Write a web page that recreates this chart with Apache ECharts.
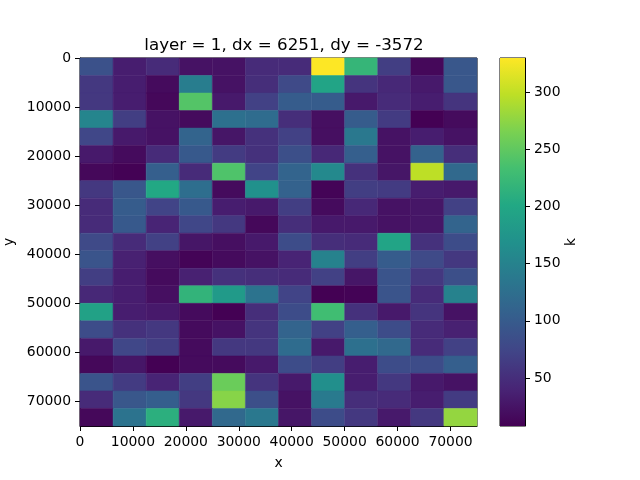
<!DOCTYPE html>
<html>
<head>
<meta charset="utf-8">
<script src="https://cdn.jsdelivr.net/npm/echarts@6/dist/echarts.min.js"></script>
<style>html,body{margin:0;padding:0;background:#fff}#c{width:640px;height:480px}</style>
</head>
<body>
<div id="c"></div>
<script>
const titleText = 'layer = 1, dx = 6251, dy = -3572';
const dx = 6251;
const dy = 3572;
const nCols = 12;
const nRows = 21;
const xTicks = [0, 10000, 20000, 30000, 40000, 50000, 60000, 70000];
const yTicks = [0, 10000, 20000, 30000, 40000, 50000, 60000, 70000];
const cbTicks = [50, 100, 150, 200, 250, 300];
const vMin = 8;
const vMax = 330;
// k values, one row per dy step (top to bottom), one column per dx step
const row0  = [88, 34, 47, 24, 24, 47, 47, 330, 220, 66, 14, 95];
const row1  = [60, 34, 17, 143, 24, 50, 79, 195, 56, 44, 30, 95];
const row2  = [60, 34, 14, 243, 30, 69, 101, 101, 30, 47, 34, 56];
const row3  = [153, 66, 24, 17, 127, 121, 50, 21, 101, 63, 8, 17];
const row4  = [76, 30, 24, 111, 27, 53, 69, 21, 137, 24, 34, 24];
const row5  = [30, 17, 47, 98, 63, 53, 85, 44, 105, 24, 108, 50];
const row6  = [14, 9, 105, 47, 240, 72, 111, 159, 53, 27, 298, 117];
const row7  = [60, 95, 201, 124, 17, 169, 108, 11, 66, 63, 34, 30];
const row8  = [47, 101, 72, 98, 34, 30, 66, 17, 44, 24, 27, 69];
const row9  = [47, 98, 40, 76, 60, 14, 50, 30, 30, 24, 27, 111];
const row10 = [79, 47, 69, 27, 21, 30, 82, 50, 47, 195, 53, 82];
const row11 = [92, 37, 21, 11, 17, 24, 40, 150, 66, 101, 79, 60];
const row12 = [66, 34, 17, 37, 53, 50, 47, 69, 27, 92, 60, 85];
const row13 = [44, 34, 21, 217, 182, 130, 72, 8, 10, 92, 47, 150];
const row14 = [192, 34, 30, 17, 8, 50, 82, 230, 53, 30, 56, 24];
const row15 = [82, 53, 60, 17, 24, 56, 111, 69, 105, 82, 47, 37];
const row16 = [30, 76, 66, 17, 60, 60, 121, 30, 127, 117, 47, 69];
const row17 = [14, 27, 8, 17, 17, 30, 82, 66, 34, 82, 82, 105];
const row18 = [92, 63, 40, 66, 256, 56, 30, 166, 34, 60, 30, 24];
const row19 = [47, 95, 104, 60, 272, 85, 24, 140, 50, 47, 34, 63];
const row20 = [14, 130, 211, 30, 117, 137, 27, 82, 60, 30, 60, 278];
const kRows = [row0,row1,row2,row3,row4,row5,row6,row7,row8,row9,row10,
  row11,row12,row13,row14,row15,row16,row17,row18,row19,row20];

const viridis = ['#440154','#482475','#414487','#355f8d','#2a788e','#21918c',
  '#22a884','#44bf70','#7ad151','#bddf26','#fde725'];

const cells = [];
for (let r = 0; r < nRows; r++) {
  for (let c = 0; c < nCols; c++) {
    cells.push([c * dx, r * dy, kRows[r][c]]);
  }
}
const xMax = nCols * dx;
const yMax = nRows * dy;

const font = 'DejaVu Sans';
const fs = 13.9;
const plain = v => String(v);
const chart = echarts.init(document.getElementById('c'), null, {renderer: 'canvas'});
const axisCommon = {
  axisLine: {show: true, onZero: false, lineStyle: {color: '#000', width: 1}},
  axisTick: {show: true, inside: false, length: 5, lineStyle: {color: '#000'}},
  axisLabel: {color: '#000', fontFamily: font, fontSize: fs, margin: 9, formatter: plain},
  splitLine: {show: false},
  nameTextStyle: {color: '#000', fontFamily: font, fontSize: fs}
};
chart.setOption({
  animation: false,
  backgroundColor: '#fff',
  title: {text: titleText, left: 279, top: 32, textAlign: 'center',
    textStyle: {fontFamily: font, fontSize: 16.7, fontWeight: 'normal', color: '#000'}},
  grid: [
    {left: 80, top: 58, width: 397, height: 368, outerBoundsMode: 'none', containLabel: false,
      show: true, borderColor: '#000', borderWidth: 1, backgroundColor: 'transparent'},
    {left: 500, top: 58, width: 25, height: 368, outerBoundsMode: 'none', containLabel: false,
      show: true, borderColor: '#000', borderWidth: 1, backgroundColor: 'transparent'}
  ],
  xAxis: [
    Object.assign({}, axisCommon, {type: 'value', gridIndex: 0, min: 0, max: xMax, interval: 10000,
      name: 'x', nameLocation: 'middle', nameGap: 30,
      axisTick: Object.assign({}, axisCommon.axisTick, {customValues: xTicks}),
      axisLabel: Object.assign({}, axisCommon.axisLabel, {customValues: xTicks})}),
    {type: 'value', gridIndex: 1, min: 0, max: 1, show: false}
  ],
  yAxis: [
    Object.assign({}, axisCommon, {type: 'value', gridIndex: 0, min: 0, max: yMax, interval: 10000, inverse: true,
      name: 'y', nameLocation: 'middle', nameGap: 55, nameRotate: 90,
      axisTick: Object.assign({}, axisCommon.axisTick, {customValues: yTicks}),
      axisLabel: Object.assign({}, axisCommon.axisLabel, {customValues: yTicks})}),
    Object.assign({}, axisCommon, {type: 'value', gridIndex: 1, min: vMin, max: vMax, position: 'right',
      name: 'k', nameLocation: 'middle', nameGap: 34, nameRotate: 90,
      axisTick: Object.assign({}, axisCommon.axisTick, {customValues: cbTicks}),
      axisLabel: Object.assign({}, axisCommon.axisLabel, {customValues: cbTicks})})
  ],
  visualMap: {
    show: false, type: 'continuous', seriesIndex: 0, dimension: 2,
    min: vMin, max: vMax, inRange: {color: viridis}
  },
  series: [
    {
      type: 'custom', xAxisIndex: 0, yAxisIndex: 0,
      data: cells,
      encode: {x: 0, y: 1},
      renderItem: function (params, api) {
        const x0 = api.value(0), y0 = api.value(1);
        const p1 = api.coord([x0, y0]);
        const p2 = api.coord([x0 + dx, y0 + dy]);
        return {
          type: 'rect',
          shape: {x: Math.min(p1[0], p2[0]), y: Math.min(p1[1], p2[1]),
            width: Math.abs(p2[0] - p1[0]), height: Math.abs(p2[1] - p1[1])},
          style: {fill: api.visual('color'), stroke: api.visual('color'), lineWidth: 0.5}
        };
      },
      z: 1
    },
    {
      type: 'custom', xAxisIndex: 1, yAxisIndex: 1,
      data: [[0, vMin, 1, vMax]],
      renderItem: function (params, api) {
        const a = api.coord([0, vMax]);
        const b = api.coord([1, vMin]);
        const stops = viridis.map((c, i) => ({offset: 1 - i / (viridis.length - 1), color: c}));
        return {
          type: 'rect',
          shape: {x: a[0], y: a[1], width: b[0] - a[0], height: b[1] - a[1]},
          style: {fill: new echarts.graphic.LinearGradient(0, 0, 0, 1, stops)}
        };
      },
      z: 1
    }
  ]
});
</script>
</body>
</html>
